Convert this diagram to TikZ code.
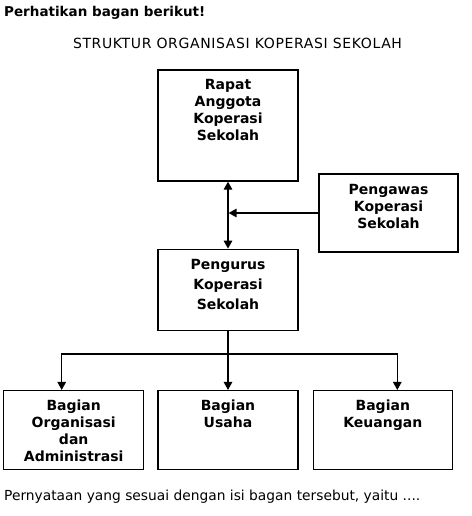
\documentclass[tikz,border=0pt]{standalone}
\usepackage{fontspec}
\setmainfont{DejaVu Sans}
\usetikzlibrary{positioning, arrows.meta}

\begin{document}
\begin{tikzpicture}[
  x=1pt, y=-1pt,
  kotak/.style={draw, line width=1.3pt, minimum width=140pt, inner sep=0pt},
  isi/.style={font=\bfseries\fontsize{14}{17}\selectfont, align=center, inner sep=0pt},
  panah/.style={-{Triangle[width=8.5pt,length=8pt]}, line width=1.3pt},
  panahdua/.style={{Triangle[width=8.5pt,length=8pt]}-{Triangle[width=8.5pt,length=8pt]}, line width=1.3pt},
  garis/.style={line width=1.3pt}
]
\useasboundingbox (0,0) rectangle (471,516);
\node[anchor=base west, font=\bfseries\fontsize{13.5}{16}\selectfont, inner sep=0pt] (perintah) at (4,17) {Perhatikan bagan berikut!};
\node[anchor=base, font=\fontsize{14}{17}\selectfont\addfontfeature{LetterSpace=4.5}, inner sep=0pt] (judul) at (237.5,49) {STRUKTUR ORGANISASI KOPERASI SEKOLAH};

% kotak-kotak bagan
\node[kotak, minimum height=111pt] (rapat) at (228,125.5) {};
\node[kotak, minimum height=81pt, below=67pt of rapat] (pengurus) {};
\node[kotak, minimum width=139pt, minimum height=78pt] (pengawas) at (388.5,213) {};
\node[kotak, minimum height=79pt, below=59pt of pengurus] (usaha) {};
\node[kotak, minimum height=79pt, left=13pt of usaha] (organisasi) {};
\node[kotak, minimum width=139pt, minimum height=79pt, right=14pt of usaha] (keuangan) {};

% isi kotak
\node[isi, below=10pt of rapat.north] (rapat-t) {Rapat\\Anggota\\Koperasi\\Sekolah};
\node[isi, below=11pt of pengawas.north] (pengawas-t) {Pengawas\\Koperasi\\Sekolah};
\node[isi, font=\bfseries\fontsize{14}{20}\selectfont, below=10pt of pengurus.north] (pengurus-t) {Pengurus\\Koperasi\\Sekolah};
\node[isi, below=10pt of organisasi.north] (organisasi-t) {Bagian\\Organisasi\\dan\\Administrasi};
\node[isi, below=10pt of usaha.north] (usaha-t) {Bagian\\Usaha};
\node[isi, below=10pt of keuangan.north] (keuangan-t) {Bagian\\Keuangan};

% garis penghubung
\coordinate (temu) at (rapat.south |- pengawas.west);
\coordinate (cabang) at ([yshift=-23pt]pengurus.south);
\coordinate (ujung-org) at ([xshift=-12pt]organisasi.north);
\coordinate (ujung-keu) at ([xshift=14.5pt]keuangan.north);
\draw[panahdua] (rapat) -- (pengurus);
\draw[panah, shorten >=0.6pt] (pengawas.west) -- (temu);
\draw[garis] (pengurus.south) -- (cabang);
\draw[panah] (cabang) -- (usaha.north);
\draw[panah] (cabang) -| (ujung-org);
\draw[panah] (cabang) -| (ujung-keu);

\node[anchor=base west, font=\fontsize{13.8}{16}\selectfont, inner sep=0pt] (soal) at (4,500) {Pernyataan yang sesuai dengan isi bagan tersebut, yaitu ....};
\end{tikzpicture}
\end{document}
